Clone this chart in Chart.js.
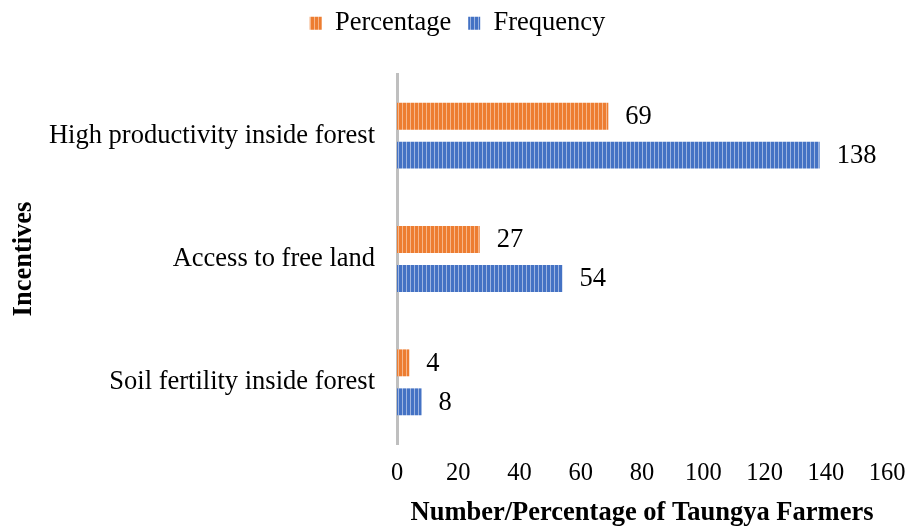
<!DOCTYPE html>
<html><head><meta charset="utf-8">
<script src="https://cdn.jsdelivr.net/npm/chart.js@4.4.0/dist/chart.umd.min.js"></script>
<style>html,body{margin:0;padding:0;background:#fff}#wrap{width:917px;height:526px}</style>
</head><body><div id="wrap"><canvas id="c" width="917" height="526"></canvas></div>
<script>
const categories = ["High productivity inside forest", "Access to free land", "Soil fertility inside forest"];
const percentage = [69, 27, 4];
const frequency = [138, 54, 8];
const xTicks = [0, 20, 40, 60, 80, 100, 120, 140, 160];

function stripe(base, light) {
  const p = document.createElement('canvas');
  p.width = 4; p.height = 4;
  const g = p.getContext('2d');
  g.fillStyle = base; g.fillRect(0, 0, 4, 4);
  g.fillStyle = light; g.fillRect(2, 0, 1, 4);
  return g.createPattern(p, 'repeat');
}
const ctx = document.getElementById('c').getContext('2d');
const orangeP = stripe('#ED7D31', '#F6B68A');
const blueP = stripe('#4472C4', '#9DB4E0');
const FONT = "'Liberation Serif', 'Times New Roman', serif";
const FS = 26.5;
const TFS = 24.5;

const labelPlugin = {
  id: 'vals',
  beforeInit(chart) {
    const lg = chart.legend;
    const origFit = lg.fit;
    lg.fit = function () { origFit.call(this); this.height = 81; };
    const origDraw = lg._draw;
    lg._draw = function () {
      this.left += 10; this.right += 10;
      origDraw.call(this);
      this.left -= 10; this.right -= 10;
    };
  },
  afterDatasetsDraw(chart) {
    const c = chart.ctx;
    c.save();
    c.font = FS + "px " + FONT;
    c.fillStyle = '#000';
    c.textBaseline = 'middle';
    c.textAlign = 'left';
    chart.data.datasets.forEach((ds, i) => {
      chart.getDatasetMeta(i).data.forEach((bar, j) => {
        c.fillText(String(ds.data[j]), bar.x + 17, bar.y + 1);
      });
    });
    c.restore();
  }
};

new Chart(ctx, {
  type: 'bar',
  data: {
    labels: categories,
    datasets: [
      { label: 'Percentage', data: percentage, backgroundColor: orangeP, borderWidth: 0 },
      { label: 'Frequency', data: frequency, backgroundColor: blueP, borderWidth: 0 }
    ]
  },
  options: {
    indexAxis: 'y',
    responsive: false,
    animation: false,
    devicePixelRatio: 1,
    layout: { padding: { top: -7, right: 30, bottom: 0, left: 8 } },
    datasets: { bar: { categoryPercentage: 0.632, barPercentage: 0.69 } },
    plugins: {
      legend: {
        position: 'top',
        labels: { font: { family: FONT, size: FS }, color: '#000', boxWidth: 12, boxHeight: 13, padding: 17 },
      },
      tooltip: { enabled: false }
    },
    scales: {
      x: {
        min: 0, max: 160,
        afterBuildTicks(s) { s.ticks = xTicks.map(v => ({ value: v })); },
        grid: { display: false },
        border: { display: false },
        ticks: { font: { family: FONT, size: TFS }, color: '#000', padding: 7, maxRotation: 0 },
        title: { display: true, text: 'Number/Percentage of Taungya Farmers', font: { family: FONT, size: FS, weight: 'bold', lineHeight: 1.0 }, color: '#000', padding: { top: 4, bottom: 0 } },
        afterFit(s) { s.height = 82; }
      },
      y: {
        grid: { display: true, color: 'transparent', drawTicks: false },
        border: { display: true, color: '#BFBFBF', width: 3 },
        ticks: { font: { family: FONT, size: FS }, color: '#000', padding: 22 },
        title: { display: true, text: 'Incentives', font: { family: FONT, size: FS, weight: 'bold', lineHeight: 1.2 }, color: '#000', padding: { top: 0, bottom: 0 } },
        afterFit(s) { s.width = 389; }
      }
    }
  },
  plugins: [labelPlugin]
});
</script>
</body></html>
